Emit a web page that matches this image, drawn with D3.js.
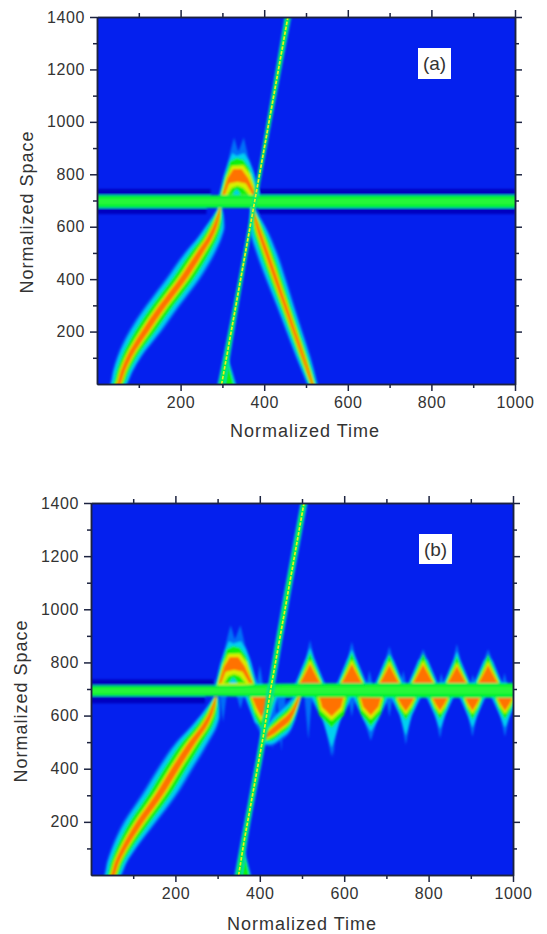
<!DOCTYPE html>
<html>
<head>
<meta charset="utf-8">
<script src="https://cdnjs.cloudflare.com/ajax/libs/d3/7.8.5/d3.min.js"></script>
<style>
  body { margin: 0; background: #fff; }
  svg { display: block; }
  text { font-family: "Liberation Sans", Arial, sans-serif; fill: #333; }
</style>
</head>
<body>
<svg id="viz" width="547" height="934"></svg>
<script>
  var timeTicks = [200, 400, 600, 800, 1000];
  var timeMinor = [100, 300, 500, 700, 900];
  var spaceTicks = [200, 400, 600, 800, 1000, 1200, 1400];
  var spaceMinor = [100, 300, 500, 700, 900, 1100, 1300];

  // ridges: [space, time, half width in time]
  var pulseA = [[-20,46,20],[0,52,21],[50,62,25],[103,77,30],[200,115,40],[300,158,42],[400,205,42],[500,246,38],[560,270,30],[600,282,24],[640,290,14],[670,294,6]];
  var pulseB = [[-20,47,20],[0,52,21],[50,62,25],[98,77,30],[199,116,40],[298,160,43],[399,199,43],[500,240,40],[560,268,32],[600,282,24],[640,291,14],[670,296,6]];
  var returnA = [[-20,519,12],[0,515,13],[100,494,18],[200,472,20],[300,450,22],[400,428,25],[500,406,26],[600,384,20],[650,375,10],[680,370,4]];
  var solitonA = [[-20,296,10],[120,312,8],[1420,459,8]];
  var solitonB = [[-20,348,10],[120,362,8],[520,408,8],[709,427,8],[1420,507,8]];
  // capture trail in (b): [time, space, half width in space]
  var trailB = [[404,515,22],[425,535,50],[448,564,60],[476,608,58],[493,665,34],[500,690,12]];
  // trapped band: [time, space, half width in space]
  var bandA = [[-20,696,23],[1020,696,23]];
  var bandB = [[-20,693,19],[300,693,19],[420,695,23],[520,695,25],[620,695,25],[710,695,26],[790,695,26],[870,695,26],[950,695,26],[1020,695,26]];
  // dark fringes beside the band: [from, to, space low, space high]
  var darkA = [[0,272,719,744],[0,262,648,673],[392,1000,719,744],[410,1000,648,673]];
  var darkB = [[0,290,712,736],[0,270,646,674],[300,480,716,722],[410,475,658,672]];

  // arched lobe over the band, contours [time, space]
  var archOuter = [[290,710],[302,791],[314,855],[322,906],[328,940],[338,886],[351,940],[362,867],[374,816],[392,710]];
  var archCyan = [[291,710],[304,795],[316,850],[324,880],[334,870],[352,880],[364,850],[376,800],[391,710]];
  var archGreen = [[293,710],[306,790],[318,850],[334,862],[350,855],[364,825],[388,710]];
  var archYellow = [[296,710],[310,790],[322,832],[350,834],[366,800],[384,710]];
  var archOrange = [[300,722],[312,785],[326,820],[346,820],[362,785],[380,722],[372,722],[356,765],[336,772],[316,765],[306,722]];
  var archInner = [[312,722],[322,748],[336,756],[350,748],[364,722]];
  var archHole = [[324,722],[334,744],[344,722]];
  // small lobe beside the soliton near the bottom: [time, space]
  var footA = [[300,-10],[313,103],[334,-10]];
  var footB = [[351,-10],[365,85],[380,-10]];

  // repeating lobes in (b)
  var upTime = [519, 618, 707, 787, 867, 941];
  var upTip = [884, 878, 860, 850, 870, 850];
  var upHalf = [25, 25, 24, 25, 23, 24];
  var upHeight = [76, 76, 72, 74, 68, 72];
  var downTime = [404, 570, 663, 746, 827, 904, 981];
  var downTip = [527, 445, 505, 490, 515, 520, 520];
  var downHalf = [23, 29, 25, 21, 19, 18, 19];
  var downHeight = [78, 74, 70, 56, 54, 54, 54];
  var downBulge = [0.6, 0.85, 0.8, 0.6, 0.6, 0.6, 0.6];
  // faint wisps: [time, tip space, half width]
  var wispsUp = [[400,790,8],[740,770,8],[830,760,8],[905,755,8],[980,760,8],[660,770,8]];
  var wispsDown = [[313,576,8],[354,625,8],[515,510,9],[618,595,8],[707,595,8],[431,470,10],[451,465,10],[575,440,8]];

  var ramp = ["#0070f8", "#00d0f0", "#00f090", "#10f010", "#d8f000", "#ff7200"];
  var bgBlue = "#0420ee";
  var darkBlue = "#0000c0";

  var panelA = { left: 97, right: 515, top: 17, bottom: 384, tag: "(a)",
    tagBox: [418, 48, 33, 31], xTitleY: 437, yTitleX: 33, yTitleMid: 212, xTitleMid: 305, tickY: 401,
    pulse: pulseA, soliton: solitonA, band: bandA, dark: darkA, foot: footA, archShift: 0 };
  var panelB = { left: 91, right: 513, top: 503, bottom: 875, tag: "(b)",
    tagBox: [419, 534, 33, 30], xTitleY: 930, yTitleX: 27, yTitleMid: 701, xTitleMid: 302, tickY: 892,
    pulse: pulseB, soliton: solitonB, band: bandB, dark: darkB, foot: footB, archShift: 3 };

  var svg = d3.select("#viz");
  var defs = svg.append("defs");
  defs.append("filter").attr("id", "soft")
    .attr("x", "-5%").attr("y", "-5%").attr("width", "110%").attr("height", "110%")
    .append("feGaussianBlur").attr("stdDeviation", 1);
  defs.append("filter").attr("id", "softer")
    .attr("x", "-5%").attr("y", "-5%").attr("width", "110%").attr("height", "110%")
    .append("feGaussianBlur").attr("stdDeviation", 0.8);

  drawPanel(panelA, "a");
  drawPanel(panelB, "b");

  function drawPanel(p, id) {
    var x = d3.scaleLinear().domain([0, 1000]).range([p.left, p.right]);
    var y = d3.scaleLinear().domain([0, 1400]).range([p.bottom, p.top]);

    defs.append("clipPath").attr("id", "clip" + id).append("rect")
      .attr("x", p.left).attr("y", p.top)
      .attr("width", p.right - p.left).attr("height", p.bottom - p.top);

    svg.append("rect").attr("x", p.left).attr("y", p.top)
      .attr("width", p.right - p.left).attr("height", p.bottom - p.top)
      .attr("fill", bgBlue);

    var clipped = svg.append("g").attr("clip-path", "url(#clip" + id + ")");
    var field = clipped.append("g").attr("filter", "url(#soft)");
    var thin = clipped.append("g").attr("filter", "url(#softer)");

    var contour = d3.line().x(function(d) { return x(d[0]); }).y(function(d) { return y(d[1]); });
    var upright = d3.area().curve(d3.curveMonotoneY)
      .y(function(d) { return y(d[0]); });
    var lying = d3.area().curve(d3.curveMonotoneX)
      .x(function(d) { return x(d[0]); });

    function shape(points, color) {
      field.append("path").attr("d", contour(points) + "Z").attr("fill", color);
    }

    function ridge(points, factors, colors, target) {
      factors.forEach(function(f, i) {
        upright.x0(function(d) { return x(d[1] - d[2] * f); })
          .x1(function(d) { return x(d[1] + d[2] * f); });
        (target || field).append("path").attr("d", upright(points)).attr("fill", colors[i]);
      });
    }

    function lyingRidge(points, factors, colors) {
      factors.forEach(function(f, i) {
        lying.y0(function(d) { return y(d[1] - d[2] * f); })
          .y1(function(d) { return y(d[1] + d[2] * f); });
        field.append("path").attr("d", lying(points)).attr("fill", colors[i]);
      });
    }

    function shifted(points) {
      return points.map(function(d) { return [d[0] + p.archShift, d[1]]; });
    }

    p.dark.forEach(function(d) {
      field.append("rect").attr("x", x(d[0]) - 10).attr("width", x(d[1]) - x(d[0]) + 10)
        .attr("y", y(d[3])).attr("height", y(d[2]) - y(d[3]))
        .attr("fill", darkBlue);
    });

    // lobes first, the band then goes over their feet
    if (id == "b") {
      wispsUp.forEach(function(d) {
        shape([[d[0] - d[2], 710], [d[0], d[1]], [d[0] + d[2], 710]], ramp[0]);
      });
      wispsDown.forEach(function(d) {
        shape([[d[0] - d[2], 670], [d[0], d[1]], [d[0] + d[2], 670]], ramp[0]);
      });
      upTime.forEach(function(t, i) {
        var h = upHalf[i], o = upHeight[i], base = 715, tip = upTip[i];
        shape([[t - h * 1.5, base], [t - h * 0.38, base + o * 1.35], [t, tip], [t + h * 0.38, base + o * 1.35], [t + h * 1.5, base]], ramp[0]);
        shape([[t - h * 1.38, base], [t - h * 0.45, base + o * 1.25], [t, tip - 30], [t + h * 0.45, base + o * 1.25], [t + h * 1.38, base]], ramp[1]);
        shape([[t - h * 1.28, base], [t, base + o * 1.6], [t + h * 1.28, base]], ramp[3]);
        shape([[t - h * 1.14, base], [t, base + o * 1.25], [t + h * 1.14, base]], ramp[4]);
        shape([[t - h, base + 4], [t, base + o * 1.05], [t + h, base + 4]], ramp[5]);
      });
      downTime.forEach(function(t, i) {
        var h = downHalf[i], o = downHeight[i], base = 672, tip = downTip[i], b = downBulge[i];
        shape([[t - h * 1.8, base], [t - h * 0.6, base - o * 1.35], [t, tip], [t + h * 0.6, base - o * 1.35], [t + h * 1.8, base]], ramp[0]);
        shape([[t - h * 1.6, base], [t - h * 0.7, base - o * 1.25], [t, tip + 35], [t + h * 0.7, base - o * 1.25], [t + h * 1.6, base]], ramp[1]);
        shape([[t - h * 1.4, base], [t - h * b * 1.2, base - o * 0.95], [t, base - o * 1.6], [t + h * b * 1.2, base - o * 0.95], [t + h * 1.4, base]], ramp[3]);
        shape([[t - h * 1.15, base], [t - h * b * 1.05, base - o * 0.7], [t, base - o * 1.22], [t + h * b * 1.05, base - o * 0.7], [t + h * 1.15, base]], ramp[4]);
        shape([[t - h, base - 3], [t - h * b * 0.92, base - o * 0.55], [t, base - o * 1.02], [t + h * b * 0.92, base - o * 0.55], [t + h, base - 3]], ramp[5]);
      });
      lyingRidge(trailB, [1, 0.82, 0.62, 0.36, 0.26],
        [ramp[0], ramp[1], ramp[3], ramp[4], ramp[5]]);
    }

    shape(shifted(archOuter), ramp[0]);
    shape(shifted(archCyan), ramp[1]);
    shape(shifted(archGreen), ramp[3]);
    shape(shifted(archYellow), ramp[4]);
    shape(shifted(archOrange), ramp[5]);
    shape(shifted(archInner), ramp[3]);
    shape(shifted(archHole), ramp[1]);

    shape(p.foot, ramp[1]);
    shape(p.foot.map(function(d) { return [d[0] + (p.foot[1][0] - d[0]) * 0.25, d[1] * 0.85]; }), ramp[3]);

    ridge(p.pulse, [1, 0.85, 0.62, 0.32, 0.22], [ramp[0], ramp[1], ramp[3], ramp[4], ramp[5]]);
    if (id == "a") {
      ridge(returnA, [1, 0.82, 0.6, 0.32, 0.2], [ramp[0], ramp[1], ramp[3], ramp[4], ramp[5]]);
    }

    lyingRidge(p.band, [1.06, 1, 0.5], ["#00e8a0", "#00f030", "#28f838"]);

    // soliton: soft green body, broken yellow centre as in the picture
    ridge(p.soliton, [1, 0.72], ["#00c8e0", "#00f040"], thin);
    clipped.append("path")
      .attr("d", d3.line().x(function(d) { return x(d[1]); }).y(function(d) { return y(d[0]); })(p.soliton))
      .attr("fill", "none").attr("stroke", "#e8f020").attr("stroke-width", 1.7)
      .attr("stroke-dasharray", "3.5 1.5");

    // frame and ticks, on all four sides
    var axes = svg.append("g").attr("class", "axes");
    function frame(axis, tx, ty) {
      var g = axes.append("g").attr("transform", "translate(" + tx + "," + ty + ")").call(axis);
      g.selectAll(".domain, line").attr("stroke", "#1c2340").attr("stroke-width", 1.5);
      g.selectAll("text").style("font-size", "16px").style("letter-spacing", "0.6px");
      return g;
    }
    function noLabel() { return ""; }
    var plain = d3.format("d");

    frame(d3.axisBottom(x).tickValues(timeTicks).tickSize(7).tickSizeOuter(0).tickPadding(6).tickFormat(plain), 0, p.bottom);
    frame(d3.axisBottom(x).tickValues(timeMinor).tickSize(4).tickSizeOuter(0).tickFormat(noLabel), 0, p.bottom);
    frame(d3.axisLeft(y).tickValues(spaceTicks).tickSize(7).tickSizeOuter(0).tickPadding(5).tickFormat(plain), p.left, 0);
    frame(d3.axisLeft(y).tickValues(spaceMinor).tickSize(4).tickSizeOuter(0).tickFormat(noLabel), p.left, 0);
    frame(d3.axisTop(x).tickValues(timeTicks).tickSize(7).tickSizeOuter(0).tickFormat(noLabel), 0, p.top);
    frame(d3.axisTop(x).tickValues(timeMinor).tickSize(4).tickSizeOuter(0).tickFormat(noLabel), 0, p.top);
    frame(d3.axisRight(y).tickValues(spaceTicks).tickSize(7).tickSizeOuter(0).tickFormat(noLabel), p.right, 0);
    frame(d3.axisRight(y).tickValues(spaceMinor).tickSize(4).tickSizeOuter(0).tickFormat(noLabel), p.right, 0);

    svg.append("text").attr("x", p.xTitleMid).attr("y", p.xTitleY)
      .attr("text-anchor", "middle").style("font-size", "18px").style("letter-spacing", "1px")
      .text("Normalized Time");
    svg.append("text").attr("text-anchor", "middle")
      .attr("transform", "translate(" + p.yTitleX + "," + p.yTitleMid + ") rotate(-90)")
      .style("font-size", "18px").style("letter-spacing", "1px")
      .text("Normalized Space");

    svg.append("rect").attr("x", p.tagBox[0]).attr("y", p.tagBox[1])
      .attr("width", p.tagBox[2]).attr("height", p.tagBox[3]).attr("fill", "#fff");
    svg.append("text").attr("x", p.tagBox[0] + p.tagBox[2] / 2).attr("y", p.tagBox[1] + 22)
      .attr("text-anchor", "middle").style("font-size", "19px")
      .text(p.tag);
  }
</script>
</body>
</html>
